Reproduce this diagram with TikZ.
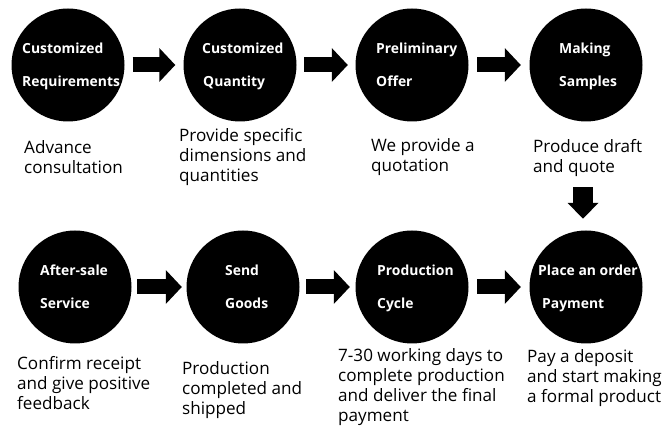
\documentclass[tikz,border=0pt]{standalone}
\usepackage{fontspec}
\setmainfont{Open Sans}
\usetikzlibrary{arrows.meta}
\tikzset{
  x=1pt, y=1pt,
  stepcircle/.style={circle, fill=black, draw=none, minimum size=113pt, inner sep=0pt},
  intext/.style={anchor=base west, inner sep=0pt, text=white, font=\fontsize{13.9}{16}\selectfont\bfseries},
  desc/.style={anchor=base west, inner sep=0pt, font=\fontsize{17.1}{20}\selectfont},
  flow/.style={line width=15pt, -{Triangle[length=16pt, width=33pt]}},
  downflow/.style={line width=20pt, -{Triangle[length=16pt, width=30pt]}}
}
\newcommand{\lines}[1]{\begin{tabular}[t]{@{}l@{}}#1\end{tabular}}
\begin{document}
\begin{tikzpicture}
\useasboundingbox (0,0) rectangle (667,431);
% circles
\node[stepcircle] (c1) at (68,366) {};
\node[stepcircle] (c2) at (240,366) {};
\node[stepcircle] (c3) at (412,366) {};
\node[stepcircle] (c4) at (586,366) {};
\node[stepcircle] (c5) at (75,144) {};
\node[stepcircle] (c6) at (243,144) {};
\node[stepcircle] (c7) at (412,144) {};
\node[stepcircle] (c8) at (586,144) {};
% circle texts
\node[intext] (t1a) at (22,377) {Customized};
\node[intext] (t1b) at (22,344) {Requirements};
\node[intext] (t2a) at (202,377) {Customized};
\node[intext] (t2b) at (203,344) {Quantity};
\node[intext] (t3a) at (376,377) {Preliminary};
\node[intext] (t3b) at (376,344) {Offer};
\node[intext] (t4a) at (559,377) {Making};
\node[intext] (t4b) at (559,344) {Samples};
\node[intext] (t5a) at (40,155) {After-sale};
\node[intext] (t5b) at (40,122) {Service};
\node[intext] (t6a) at (225,155) {Send};
\node[intext] (t6b) at (225,122) {Goods};
\node[intext] (t7a) at (377,155) {Production};
\node[intext] (t7b) at (377,122) {Cycle};
\node[intext] (t8a) at (538,155) {Place an order};
\node[intext] (t8b) at (542,122) {Payment};
% descriptions
\node[desc] (d1) at (24,277) {\lines{Advance\\consultation}};
\node[desc] (d2) at (179,289) {\lines{Provide specific\\dimensions and\\quantities}};
\node[desc] (d3) at (371,279) {\lines{We provide a\\quotation}};
\node[desc] (d4) at (533,278) {\lines{Produce draft\\and quote}};
\node[desc] (d5) at (17,61) {\lines{Confirm receipt\\and give positive\\feedback}};
\node[desc] (d6) at (182,56) {\lines{Production\\completed and\\shipped}};
\node[desc] (d7) at (338,69) {\lines{7-30 working days to\\complete production\\and deliver the final\\payment}};
\node[desc] (d8) at (527,68) {\lines{Pay a deposit\\and start making\\a formal product}};
% arrows
\draw[flow, shorten <=8pt, shorten >=8pt] (c1) -- (c2);
\draw[flow, shorten <=7.5pt, shorten >=7.5pt] (c2) -- (c3);
\draw[flow, shorten <=8.5pt, shorten >=8.5pt] (c3) -- (c4);
\draw[downflow, shorten <=65.5pt, shorten >=11.5pt] ([xshift=-3pt]c4.south) -- ([xshift=-3pt]c8.north);
\draw[flow, shorten <=5.5pt, shorten >=4.5pt] (c5) -- (c6);
\draw[flow, shorten <=6.5pt, shorten >=5.5pt] (c6) -- (c7);
\draw[flow, shorten <=8.5pt, shorten >=8.5pt] (c7) -- (c8);
\end{tikzpicture}
\end{document}
